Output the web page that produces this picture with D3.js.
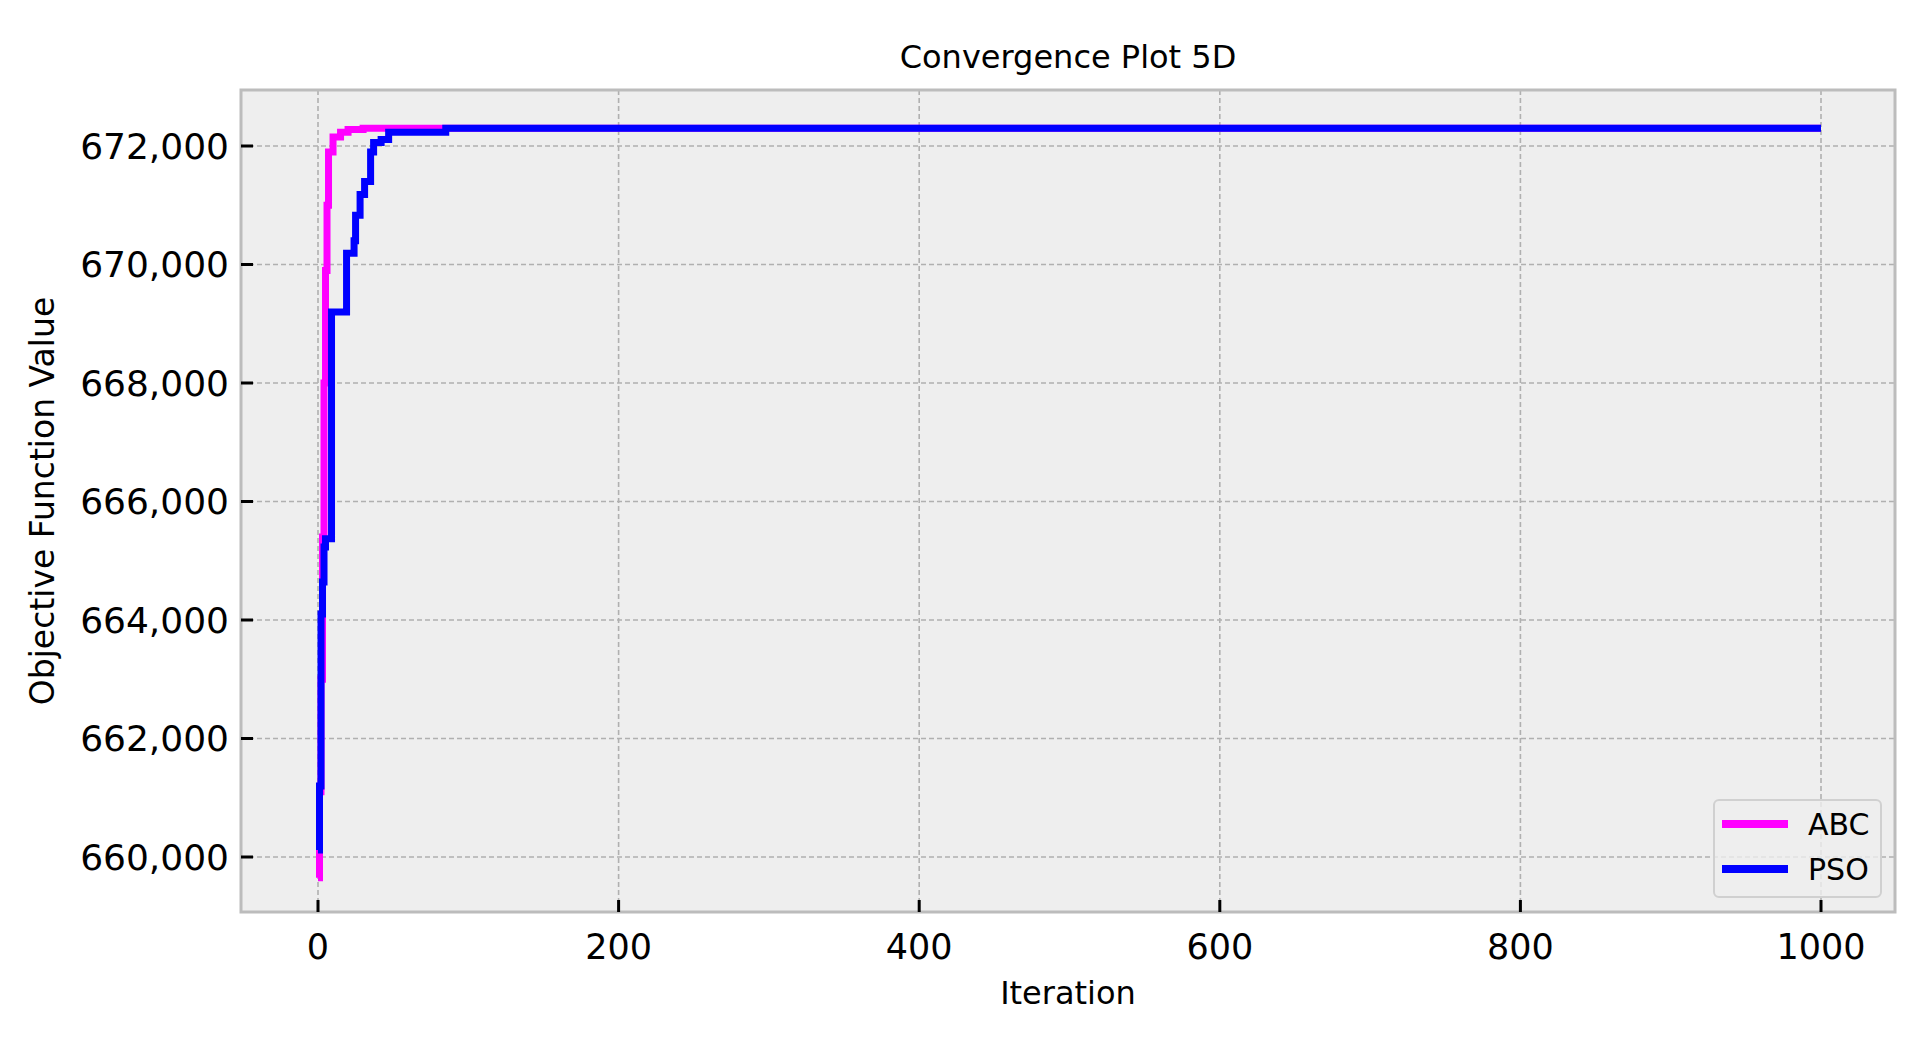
<!DOCTYPE html>
<html><head><meta charset="utf-8">
<script src="https://cdn.jsdelivr.net/npm/d3@7"></script>
<style>body{margin:0;background:#fff}svg{display:block}text{font-family:"DejaVu Sans",sans-serif}</style>
</head><body><svg id="c" width="1931" height="1037"></svg>
<script>
const abcIter = [0,1,2,3,4,5,6,7,10,15,20,30,1000];
const abcVal  = [659650,661100,663000,665400,668000,669900,671000,671900,672150,672230,672280,672300,672300];
const psoIter = [0,1,2,3,4,5,9,19,24,25,28,31,35,37,42,47,85,1000];
const psoVal  = [660120,661200,664100,664640,665230,665370,669200,670190,670400,670830,671180,671400,671900,672060,672110,672230,672300,672300];
const xTicks = [0,200,400,600,800,1000];
const yTicks = [660000,662000,664000,666000,668000,670000,672000];

const svg = d3.select("#c");
const L=241,R=1895,T=90,B=912;
const x = d3.scaleLinear().domain([0,1000]).range([318,1821]);
const y = d3.scaleLinear().domain([660000,672000]).range([857,146]);
svg.append("rect").attr("x",L).attr("y",T).attr("width",R-L).attr("height",B-T).attr("fill","#eeeeee");
const g = svg.append("g");
xTicks.forEach(t=>g.append("line").attr("x1",x(t)).attr("x2",x(t)).attr("y1",T).attr("y2",B).attr("stroke","#b0b0b0").attr("stroke-width",1.6).attr("stroke-dasharray","5,3"));
yTicks.forEach(t=>g.append("line").attr("y1",y(t)).attr("y2",y(t)).attr("x1",L).attr("x2",R).attr("stroke","#b0b0b0").attr("stroke-width",1.6).attr("stroke-dasharray","5,3"));
const line = d3.line().curve(d3.curveStepAfter).x(d=>x(d[0])).y(d=>y(d[1]));
svg.append("path").attr("d",line(abcIter.map((d,i)=>[d,abcVal[i]]))).attr("fill","none").attr("stroke","#ff00ff").attr("stroke-width",7);
svg.append("path").attr("d",line(psoIter.map((d,i)=>[d,psoVal[i]]))).attr("fill","none").attr("stroke","#0000ff").attr("stroke-width",7);
svg.append("rect").attr("x",L).attr("y",T).attr("width",R-L).attr("height",B-T).attr("fill","none").attr("stroke","#bcbcbc").attr("stroke-width",3);
const fmt = d3.format(",");
yTicks.forEach(t=>{
  svg.append("line").attr("x1",L).attr("x2",L+12).attr("y1",y(t)).attr("y2",y(t)).attr("stroke","#000").attr("stroke-width",3);
  svg.append("text").attr("x",L-12).attr("y",y(t)).attr("dy","0.36em").attr("text-anchor","end").attr("font-size",36).text(fmt(t));
});
xTicks.forEach(t=>{
  svg.append("line").attr("x1",x(t)).attr("x2",x(t)).attr("y1",B).attr("y2",B-12).attr("stroke","#000").attr("stroke-width",3);
  svg.append("text").attr("x",x(t)).attr("y",B+47).attr("text-anchor","middle").attr("font-size",35).text(t);
});
svg.append("text").attr("x",(L+R)/2).attr("y",68).attr("text-anchor","middle").attr("font-size",32).text("Convergence Plot 5D");
svg.append("text").attr("x",(L+R)/2).attr("y",1004).attr("text-anchor","middle").attr("font-size",32).text("Iteration");
svg.append("text").attr("transform",`translate(54,${(T+B)/2}) rotate(-90)`).attr("text-anchor","middle").attr("font-size",33).text("Objective Function Value");
const lg = svg.append("g");
lg.append("rect").attr("x",1714).attr("y",800).attr("width",167).attr("height",97).attr("rx",5).attr("fill","#eeeeee").attr("fill-opacity",0.8).attr("stroke","#d0d0d0").attr("stroke-width",2);
[["ABC","#ff00ff",824],["PSO","#0000ff",869]].forEach(([n,c,yy])=>{
  lg.append("line").attr("x1",1722).attr("x2",1788).attr("y1",yy).attr("y2",yy).attr("stroke",c).attr("stroke-width",8);
  lg.append("text").attr("x",1808).attr("y",yy).attr("dy","0.36em").attr("font-size",30).text(n);
});
</script></body></html>
